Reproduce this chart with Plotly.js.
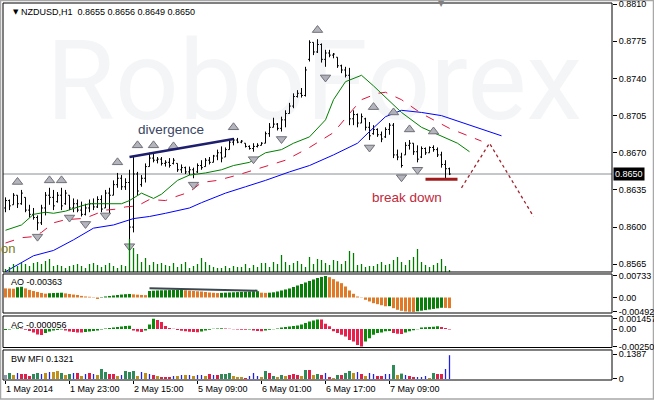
<!DOCTYPE html>
<html><head><meta charset="utf-8">
<script src="https://cdn.plot.ly/plotly-3.0.1.min.js"></script>
<style>html,body{margin:0;padding:0;background:#fff;}#chart{width:654px;height:400px;}</style>
</head><body><div id="chart"></div>
<script>
// ---- NZDUSD H1 bars ----
const opens=[0.8618,0.8625,0.8621,0.8630,0.8622,0.8628,0.8616,0.8612,0.8609,0.8604,
0.8618,0.8630,0.8628,0.8624,0.8630,0.8622,0.8630,0.8618,0.8622,0.8616,
0.8612,0.8618,0.8622,0.8619,0.8626,0.8618,0.8632,0.8630,0.8640,0.8646,
0.8638,0.8642,0.8600,0.8650,0.8640,0.8646,0.8657,0.8665,0.8663,0.8664,
0.8660,0.8661,0.8660,0.8660,0.8654,0.8656,0.8652,0.8654,0.8652,0.8658,
0.8657,0.8663,0.8661,0.8667,0.8670,0.8666,0.8673,0.8680,0.8682,0.8680,
0.8679,0.8676,0.8674,0.8676,0.8677,0.8679,0.8688,0.8694,0.8697,0.8693,
0.8701,0.8707,0.8714,0.8723,0.8726,0.8724,0.8758,0.8774,0.8765,0.8772,
0.8758,0.8764,0.8762,0.8760,0.8752,0.8748,0.8743,0.8702,0.8706,0.8698,
0.8702,0.8694,0.8688,0.8692,0.8687,0.8685,0.8692,0.8696,0.8668,0.8666,
0.8668,0.8677,0.8679,0.8671,0.8666,0.8674,0.8670,0.8675,0.8673,0.8668,
0.8659,0.8655];
const highs=[0.8628,0.8626,0.8632,0.8630,0.8635,0.8628,0.8621,0.8618,0.8611,0.8621,
0.8633,0.8637,0.8635,0.8633,0.8637,0.8635,0.8630,0.8627,0.8626,0.8624,
0.8622,0.8626,0.8627,0.8629,0.8630,0.8635,0.8637,0.8644,0.8651,0.8649,
0.8646,0.8654,0.8666,0.8652,0.8649,0.8660,0.8670,0.8669,0.8666,0.8666,
0.8663,0.8665,0.8665,0.8660,0.8659,0.8657,0.8657,0.8656,0.8660,0.8663,
0.8665,0.8666,0.8668,0.8673,0.8676,0.8675,0.8682,0.8684,0.8684,0.8682,
0.8679,0.8677,0.8679,0.8679,0.8680,0.8690,0.8698,0.8703,0.8698,0.8704,
0.8710,0.8717,0.8726,0.8729,0.8731,0.8751,0.8776,0.8774,0.8777,0.8773,
0.8767,0.8767,0.8764,0.8760,0.8753,0.8751,0.8750,0.8710,0.8707,0.8707,
0.8703,0.8699,0.8696,0.8693,0.8690,0.8694,0.8698,0.8698,0.8673,0.8670,
0.8680,0.8682,0.8679,0.8677,0.8676,0.8675,0.8676,0.8677,0.8675,0.8671,
0.8663,0.8656];
const lows=[0.8614,0.8616,0.8621,0.8618,0.8621,0.8614,0.8609,0.8607,0.8597,0.8602,
0.8611,0.8621,0.8616,0.8623,0.8616,0.8621,0.8616,0.8614,0.8614,0.8610,
0.8611,0.8614,0.8616,0.8618,0.8614,0.8618,0.8613,0.8630,0.8637,0.8635,
0.8635,0.8586,0.8595,0.8630,0.8638,0.8642,0.8657,0.8661,0.8660,0.8658,
0.8657,0.8656,0.8659,0.8652,0.8651,0.8650,0.8649,0.8646,0.8651,0.8654,
0.8657,0.8659,0.8661,0.8663,0.8661,0.8666,0.8673,0.8677,0.8679,0.8679,
0.8675,0.8673,0.8671,0.8675,0.8677,0.8679,0.8685,0.8694,0.8691,0.8690,
0.8694,0.8707,0.8712,0.8722,0.8722,0.8723,0.8756,0.8762,0.8764,0.8755,
0.8751,0.8760,0.8759,0.8750,0.8745,0.8741,0.8696,0.8696,0.8694,0.8698,
0.8691,0.8682,0.8687,0.8685,0.8680,0.8684,0.8687,0.8665,0.8663,0.8656,
0.8668,0.8673,0.8668,0.8661,0.8665,0.8668,0.8670,0.8671,0.8666,0.8656,
0.8646,0.8649];
const closes=[0.8625,0.8620,0.8630,0.8622,0.8632,0.8616,0.8612,0.8609,0.8604,0.8618,
0.8630,0.8628,0.8620,0.8630,0.8620,0.8632,0.8618,0.8622,0.8616,0.8612,
0.8618,0.8622,0.8619,0.8626,0.8617,0.8632,0.8630,0.8640,0.8646,0.8638,
0.8642,0.8600,0.8650,0.8634,0.8646,0.8657,0.8665,0.8663,0.8664,0.8660,
0.8661,0.8658,0.8663,0.8654,0.8656,0.8652,0.8654,0.8650,0.8658,0.8656,
0.8663,0.8661,0.8667,0.8670,0.8665,0.8673,0.8680,0.8682,0.8680,0.8681,
0.8676,0.8674,0.8676,0.8677,0.8679,0.8688,0.8694,0.8697,0.8693,0.8701,
0.8707,0.8714,0.8723,0.8726,0.8724,0.8748,0.8774,0.8765,0.8772,0.8758,
0.8764,0.8762,0.8763,0.8752,0.8748,0.8743,0.8702,0.8706,0.8698,0.8704,
0.8694,0.8686,0.8692,0.8687,0.8683,0.8692,0.8696,0.8668,0.8666,0.8658,
0.8677,0.8679,0.8671,0.8664,0.8674,0.8670,0.8675,0.8673,0.8668,0.8659,
0.8655,0.8650];
const volumes=[180,300,480,360,540,480,360,540,600,480,
660,780,360,420,360,240,360,420,480,360,
240,480,540,420,300,420,540,360,240,420,
360,1980,1440,1080,600,840,420,600,480,540,
420,360,540,300,480,600,240,360,480,840,
600,420,300,240,240,360,240,360,300,300,
480,240,420,300,540,540,300,600,480,1020,
600,420,540,660,480,300,900,480,780,720,
540,420,720,660,480,660,1260,1140,420,480,
300,360,360,480,600,420,480,720,900,600,
420,720,900,1380,600,420,300,420,540,780,
360,120];
// ---- Alligator lines (bar index, price) ----
const lipsIdx=[0,4,7,10,12,15,19,21,25,29,31,34,37,39,43,46,50,54,57,61,65,69,72,76,80,82,85,89,92,96,99,104,110,113,116];
const lipsVal=[0.8597,0.8602,0.8612,0.8614,0.8613,0.8615,0.8620,0.8622,0.8622,0.8622,0.8625,0.8632,0.8627,0.8631,0.8644,0.8649,0.8651,0.8654,0.8658,0.8661,0.8670,0.8673,0.8679,0.8685,0.8701,0.8720,0.8737,0.8743,0.8733,0.8719,0.8708,0.8694,0.8684,0.8679,0.8671];
const teethIdx=[0,4,7,9,12,15,19,21,25,28,30,33,36,40,42,46,49,53,58,64,70,76,82,86,89,93,95,99,104,111,117,119];
const teethVal=[0.8585,0.8590,0.8591,0.8595,0.8604,0.8607,0.8608,0.8610,0.8616,0.8617,0.8619,0.8620,0.8626,0.8625,0.8628,0.8633,0.8642,0.8644,0.8649,0.8656,0.8663,0.8675,0.8689,0.8707,0.8720,0.8726,0.8727,0.8720,0.8707,0.8693,0.8684,0.8681];
const jawIdx=[0,4,7,12,17,22,27,32,36,40,46,49,55,60,65,71,76,82,88,91,95,99,104,109,116,124];
const jawVal=[0.8558,0.8567,0.8573,0.8578,0.8588,0.8599,0.8602,0.8608,0.8610,0.8613,0.8618,0.8623,0.8632,0.8638,0.8644,0.8652,0.8658,0.8668,0.8679,0.8690,0.8704,0.8710,0.8708,0.8705,0.8696,0.8686];
// ---- Fractals ----
const fracUpIdx=[3,11,14,28,33,37,42,57,78,92,97,101,107];
const fracUpVal=[0.86425,0.8644,0.8644,0.8661,0.8677,0.8677,0.8676,0.8694,0.87856,0.8713,0.8708,0.8692,0.8690];
const fracDnIdx=[8,16,20,25,31,47,62,69,80,91,99,103];
const fracDnVal=[0.8591,0.8609,0.8603,0.8611,0.8582,0.8640,0.8664,0.8683,0.8741,0.8675,0.8647,0.8654];
// ---- Drawn analysis lines ----
const divIdx=[31,57], divVal=[0.8666,0.8683];
const breakIdx=[105,113], breakVal=[0.8645,0.8645];
const fcIdx=[114,121,132], fcVal=[0.8637,0.8679,0.8610];
// ---- Awesome Oscillator ----
const ao=[0.00310,0.00305,0.00300,0.00350,0.00365,0.00310,0.00260,0.00220,0.00190,0.00155,
0.00130,0.00145,0.00152,0.00158,0.00163,0.00140,0.00120,0.00100,0.00085,0.00055,
0.00035,0.00025,0.00012,-0.00050,0.00015,0.00035,0.00052,0.00068,0.00085,0.00100,
0.00112,0.00120,0.00108,0.00096,0.00086,0.00080,0.00222,0.00232,0.00240,0.00245,
0.00248,0.00252,0.00255,0.00257,0.00260,0.00245,0.00232,0.00222,0.00212,0.00204,
0.00188,0.00170,0.00160,0.00150,0.00157,0.00164,0.00170,0.00177,0.00184,0.00191,
0.00198,0.00204,0.00211,0.00215,0.00164,0.00157,0.00164,0.00177,0.00205,0.00239,
0.00273,0.00307,0.00358,0.00409,0.00460,0.00512,0.00563,0.00614,0.00665,0.00700,
0.00733,0.00692,0.00624,0.00546,0.00488,0.00375,0.00239,0.00126,0.00034,-0.00010,
-0.00078,-0.00136,-0.00194,-0.00228,-0.00263,-0.00300,-0.00295,-0.00365,-0.00420,-0.00455,
-0.00477,-0.00488,-0.00492,-0.00470,-0.00450,-0.00430,-0.00410,-0.00390,-0.00370,-0.00350,
-0.00355,-0.00363];
const aoDivIdx=[36,63], aoDivVal=[0.00314,0.00232];
// ---- Accelerator Oscillator ----
const ac=[-0.000146,-0.000073,0.000044,0.000117,0.000073,-0.000102,-0.000291,-0.000510,-0.000801,-0.000874,
-0.000583,-0.000364,-0.000219,-0.000146,-0.000073,-0.000219,-0.000364,-0.000437,-0.000481,-0.000510,
-0.000437,-0.000364,-0.000291,-0.000219,-0.000073,0.000073,0.000146,0.000219,0.000291,0.000364,
0.000437,0.000481,-0.000219,-0.000364,-0.000437,-0.000219,0.000656,0.001457,0.001311,0.001020,
0.000437,0.000146,0.000044,-0.000146,-0.000248,-0.000335,-0.000393,-0.000437,-0.000466,-0.000364,
-0.000219,-0.000117,0.000044,0.000087,0.000117,0.000073,0.000029,-0.000029,-0.000058,-0.000087,
-0.000102,-0.000073,-0.000219,-0.000291,-0.000321,-0.000219,-0.000117,-0.000044,0.000073,0.000219,
0.000291,0.000364,0.000437,0.000510,0.000656,0.000874,0.001093,0.001238,0.001384,0.001355,
0.000772,0.000393,-0.000335,-0.000583,-0.000830,-0.001064,-0.001559,-0.001792,-0.002287,-0.002500,
-0.001792,-0.001311,-0.000830,-0.000583,-0.000481,-0.000335,-0.000291,-0.000583,-0.000685,-0.000699,
-0.000481,-0.000335,-0.000189,-0.000029,0.000219,0.000262,0.000291,0.000321,0.000408,0.000291,
0.000146,-0.000056];
// ---- BW Market Facilitation Index (value, zone: G green, F fade, K fake, S squat, N none) ----
const mfi=[0.0222,0.0333,0.0222,0.0333,0.0278,0.0278,0.0167,0.0278,0.0333,0.0278,
0.0333,0.0389,0.0389,0.0444,0.0333,0.0222,0.0278,0.0333,0.0333,0.0167,
0.0278,0.0333,0.0278,0.0222,0.0555,0.0389,0.0278,0.0278,0.0167,0.0222,
0.0444,0.0389,0.0444,0.0167,0.0389,0.0333,0.0278,0.0222,0.0167,0.0111,
0.0111,0.0111,0.0167,0.0167,0.0222,0.0222,0.0222,0.0167,0.0222,0.0222,
0.0167,0.0278,0.0222,0.0222,0.0278,0.0278,0.0333,0.0167,0.0111,0.0111,
0.0056,0.0167,0.0333,0.0167,0.0111,0.0444,0.0333,0.0167,0.0111,0.0222,
0.0167,0.0222,0.0278,0.0222,0.0167,0.0500,0.0500,0.0222,0.0278,0.0222,
0.0333,0.0111,0.0056,0.0222,0.0222,0.0333,0.0444,0.0333,0.0389,0.0278,
0.0167,0.0333,0.0278,0.0167,0.0167,0.0278,0.0278,0.0777,0.0222,0.0300,
0.0222,0.0167,0.0111,0.0111,0.0111,0.0167,0.0056,0.0333,0.0278,0.0278,
0.0555,0.1321];
const mfiZone=["N","G","F","K","S","S","S","G","G","K",
"F","K","F","F","G","F","G","K","S","F",
"K","S","K","F","G","G","S","S","F","K",
"G","G","G","F","K","F","K","S","F","S",
"S","S","K","F","K","F","K","F","K","K",
"F","S","K","S","G","G","G","F","F","F",
"S","K","K","K","F","G","S","G","F","G",
"F","S","S","S","F","G","S","F","G","S",
"K","S","F","G","S","G","G","F","K","S",
"F","K","K","S","S","K","K","G","F","G",
"K","S","S","K","K","K","F","G","S","S",
"K","K"];
// ---- Labels ----
const xTickIdx=[0,16,32,48,64,80,96];
const xTickText=["1 May 2014","1 May 23:00","2 May 15:00","5 May 09:00","6 May 01:00","6 May 17:00","7 May 09:00"];
const priceTicks=[0.8565,0.8600,0.8635,0.8670,0.8705,0.8740,0.8775,0.8810];
const lastPrice=0.8650;
const aoTicks=[0.00733,0,-0.00492], aoTickText=["0.00733","0.00","-0.00492"];
const acTicks=[0.001457,0,-0.00250], acTickText=["0.001457","0.00","-0.00250"];
const mfiTicks=[0.1387,0], mfiTickText=["0.1387","0"];
const header="NZDUSD,H1  0.8655 0.8656 0.8649 0.8650";

const idx=opens.map((_,i)=>i);
const F='Liberation Sans, Arial, sans-serif';
const aoCol=ao.map((v,i)=> i>0 && v>ao[i-1] ? '#0b7d0b' : '#e07a28');
const acCol=ac.map((v,i)=> (i===0 || v>ac[i-1]) ? '#0b8a0b' : '#e8204c');
const zoneCol={G:'#2e8b57',F:'#c09018',S:'#e0204a',K:'#1f1fe6',N:'#8a9aaa'};
const thickI=[],thickV=[],thickC=[],thinI=[],thinV=[];
mfi.forEach((v,i)=>{ if(mfiZone[i]==='K'){thinI.push(i);thinV.push(v);} else {thickI.push(i);thickV.push(v);thickC.push(zoneCol[mfiZone[i]]);} });

const traces=[
 {type:'bar',x:idx,y:volumes,yaxis:'y5',marker:{color:'#007a00',line:{width:0}},width:0.32,hoverinfo:'skip'},
 {type:'scatter',mode:'lines',x:jawIdx,y:jawVal,line:{color:'#0000ff',width:1},hoverinfo:'skip'},
 {type:'scatter',mode:'lines',x:teethIdx,y:teethVal,line:{color:'#dc143c',width:1,dash:'dash'},hoverinfo:'skip'},
 {type:'scatter',mode:'lines',x:lipsIdx,y:lipsVal,line:{color:'#008000',width:1},hoverinfo:'skip'},
 {type:'ohlc',x:idx,open:opens,high:highs,low:lows,close:closes,tickwidth:0.35,
  increasing:{line:{color:'#000',width:1}},decreasing:{line:{color:'#000',width:1}},hoverinfo:'skip'},
 {type:'scatter',mode:'markers',x:fracUpIdx,y:fracUpVal,marker:{symbol:'triangle-up',size:9,color:'#b4b4bc',line:{color:'#70707a',width:1}},hoverinfo:'skip'},
 {type:'scatter',mode:'markers',x:fracDnIdx,y:fracDnVal,marker:{symbol:'triangle-down',size:9,color:'#b4b4bc',line:{color:'#70707a',width:1}},hoverinfo:'skip'},
 {type:'scatter',mode:'lines',x:divIdx,y:divVal,line:{color:'#1e1e6e',width:2.5},hoverinfo:'skip'},
 {type:'scatter',mode:'lines',x:breakIdx,y:breakVal,line:{color:'#a01c1c',width:3},hoverinfo:'skip'},
 {type:'scatter',mode:'lines',x:fcIdx,y:fcVal,line:{color:'#a0202c',width:1.3,dash:'dot'},hoverinfo:'skip'},
 {type:'bar',x:idx,y:ao,yaxis:'y2',marker:{color:aoCol,line:{width:0}},width:0.75,hoverinfo:'skip'},
 {type:'scatter',mode:'lines',x:aoDivIdx,y:aoDivVal,yaxis:'y2',line:{color:'#3c4850',width:2},hoverinfo:'skip'},
 {type:'bar',x:idx,y:ac,yaxis:'y3',marker:{color:acCol,line:{width:0}},width:0.75,hoverinfo:'skip'},
 {type:'bar',x:thickI,y:thickV,yaxis:'y4',marker:{color:thickC,line:{width:0}},width:0.75,hoverinfo:'skip'},
 {type:'bar',x:thinI,y:thinV,yaxis:'y4',marker:{color:'#1f1fe6',line:{width:0}},width:0.32,hoverinfo:'skip'}
];

const tf={family:F,size:9,color:'#000'};
const yBase={side:'right',anchor:'x',showgrid:false,zeroline:false,ticks:'outside',ticklen:4,tickcolor:'#000',tickfont:tf,fixedrange:true,showline:false,ticklabeloverflow:'allow'};
const H=377, W=609;
const py=Y=>(380-Y)/H, px=X=>(X-3)/W;
const mid={showarrow:false,yanchor:'middle'};
const layout={
 width:654,height:400,margin:{l:3,r:42,t:3,b:20},
 paper_bgcolor:'#fff',plot_bgcolor:'#fff',showlegend:false,hovermode:false,barmode:'overlay',
 xaxis:{range:[-0.625,151.625],anchor:'y4',tickvals:xTickIdx,ticktext:xTickText,ticks:'outside',ticklen:3,tickcolor:'#000',
   ticklabelposition:'outside right',tickfont:tf,showgrid:false,zeroline:false,showline:false,rangeslider:{visible:false},fixedrange:true,ticklabeloverflow:'allow'},
 yaxis:Object.assign({},yBase,{domain:[0.2865,1],range:[0.85577,0.88111],tickvals:priceTicks,ticktext:priceTicks.map(v=>v.toFixed(4))}),
 yaxis5:{overlaying:'y',range:[0,16140],visible:false,fixedrange:true},
 yaxis2:Object.assign({},yBase,{domain:[0.1777,0.2812],range:[-0.00529,0.00801],tickvals:aoTicks,ticktext:aoTickText}),
 yaxis3:Object.assign({},yBase,{domain:[0.0862,0.1698],range:[-0.00265,0.00187],tickvals:acTicks,ticktext:acTickText}),
 yaxis4:Object.assign({},yBase,{domain:[0,0.0796],range:[-0.0056,0.161],tickvals:mfiTicks,ticktext:mfiTickText}),
 shapes:[
  {type:'rect',xref:'paper',yref:'paper',x0:px(0.5),x1:px(653.5),y0:py(399),y1:py(0.5),line:{color:'#a8a8a8',width:1.5},layer:'below'},
  {type:'line',xref:'paper',yref:'y',x0:0,x1:1,y0:lastPrice,y1:lastPrice,line:{color:'#8a9096',width:1},layer:'below'},
  {type:'rect',xref:'paper',yref:'y domain',x0:0,x1:1,y0:0,y1:1,line:{color:'#000',width:1}},
  {type:'rect',xref:'paper',yref:'y2 domain',x0:0,x1:1,y0:0,y1:1,line:{color:'#000',width:1}},
  {type:'rect',xref:'paper',yref:'y3 domain',x0:0,x1:1,y0:0,y1:1,line:{color:'#000',width:1}},
  {type:'rect',xref:'paper',yref:'y4 domain',x0:0,x1:1,y0:0,y1:1,line:{color:'#000',width:1}}
 ],
 annotations:[
  Object.assign({xref:'paper',yref:'paper',x:0.51,y:py(80),text:'RoboForex',font:{family:'Roboto',size:112,color:'rgba(100,115,140,0.07)'}},mid),
  Object.assign({xref:'paper',yref:'paper',x:px(10.5),y:py(12),text:'▼',font:{family:'DejaVu Sans',size:7,color:'#000'}},mid),
  Object.assign({xref:'paper',yref:'paper',x:px(19),y:py(12),xanchor:'left',text:header,font:tf},mid),
  Object.assign({xref:'paper',yref:'paper',x:px(447),y:py(3),text:'▼',font:{family:'DejaVu Sans',size:8,color:'#808080'}},mid),
  Object.assign({xref:'paper',yref:'paper',x:px(9),y:py(282),xanchor:'left',text:'AO -0.00363',font:tf},mid),
  Object.assign({xref:'paper',yref:'paper',x:px(9),y:py(325),xanchor:'left',text:'AC -0.000056',font:tf},mid),
  Object.assign({xref:'paper',yref:'paper',x:px(9),y:py(359),xanchor:'left',text:'BW MFI 0.1321',font:tf},mid),
  Object.assign({xref:'paper',yref:'paper',x:px(17),y:py(248),xanchor:'right',text:'on',font:{family:F,size:13,color:'#7a7a22'}},mid),
  Object.assign({xref:'x',yref:'y',x:32.5,y:0.8692,xanchor:'left',text:'divergence',font:{family:F,size:13.5,color:'#3a4664'}},mid),
  Object.assign({xref:'x',yref:'y',x:91.2,y:0.8628,xanchor:'left',text:'break down',font:{family:F,size:13.5,color:'#c02a3c'}},mid),
  Object.assign({xref:'paper',yref:'y',x:1,y:lastPrice,xanchor:'left',xshift:1,text:'0.8650',bgcolor:'#000',borderpad:1,font:{family:F,size:9,color:'#fff'}},mid)
 ]
};
Plotly.newPlot('chart',traces,layout,{staticPlot:true,displayModeBar:false});
</script></body></html>
